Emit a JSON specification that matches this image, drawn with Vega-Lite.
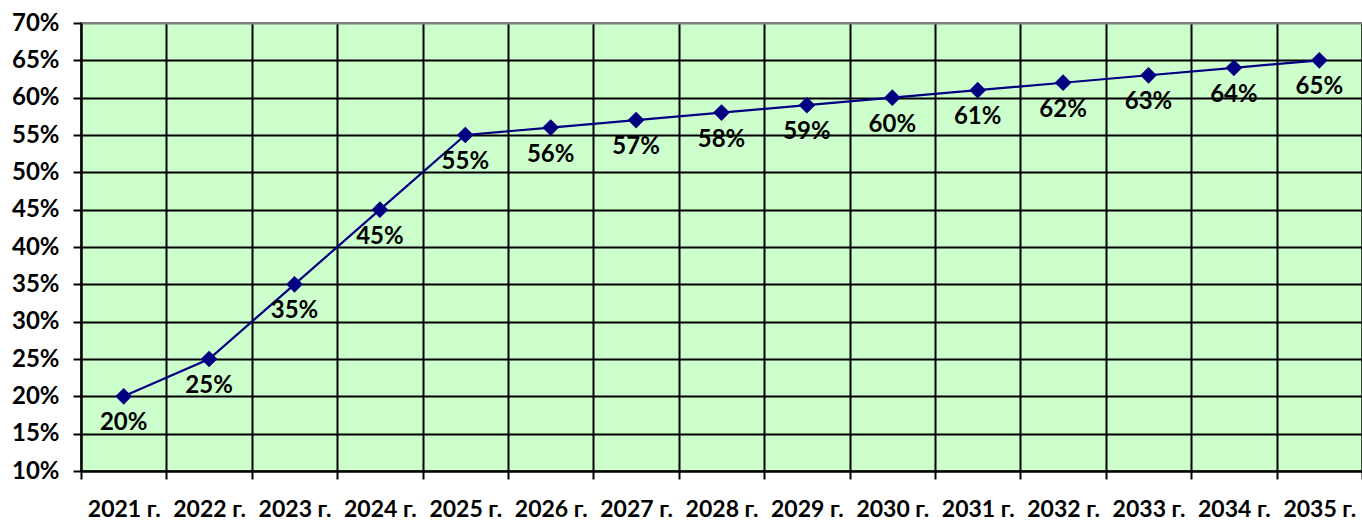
{
  "$schema": "https://vega.github.io/schema/vega-lite/v6.json",
  "width": 1281,
  "height": 448,
  "autosize": {"type": "none"},
  "padding": {"left": 81, "top": 23, "right": 0, "bottom": 49},
  "background": "white",
  "config": {
    "view": {"fill": "#CCFFCC", "stroke": "#808080", "strokeWidth": 2},
    "font": "Lato"
  },
  "data": {
    "values": [
      {"year": "2021 г.", "value": 20, "label": "20%"},
      {"year": "2022 г.", "value": 25, "label": "25%"},
      {"year": "2023 г.", "value": 35, "label": "35%"},
      {"year": "2024 г.", "value": 45, "label": "45%"},
      {"year": "2025 г.", "value": 55, "label": "55%"},
      {"year": "2026 г.", "value": 56, "label": "56%"},
      {"year": "2027 г.", "value": 57, "label": "57%"},
      {"year": "2028 г.", "value": 58, "label": "58%"},
      {"year": "2029 г.", "value": 59, "label": "59%"},
      {"year": "2030 г.", "value": 60, "label": "60%"},
      {"year": "2031 г.", "value": 61, "label": "61%"},
      {"year": "2032 г.", "value": 62, "label": "62%"},
      {"year": "2033 г.", "value": 63, "label": "63%"},
      {"year": "2034 г.", "value": 64, "label": "64%"},
      {"year": "2035 г.", "value": 65, "label": "65%"}
    ]
  },
  "encoding": {
    "x": {
      "field": "year",
      "type": "ordinal",
      "sort": null,
      "scale": {"paddingInner": 0, "paddingOuter": 0},
      "axis": {
        "title": null,
        "labelAngle": 0,
        "tickBand": "extent",
        "grid": true,
        "gridColor": "black",
        "gridWidth": 2,
        "domainColor": "black",
        "domainWidth": 2,
        "tickColor": "black",
        "tickWidth": 2,
        "tickSize": 8,
        "labelFont": "Lato",
        "labelFontSize": 23,
        "labelFontWeight": "bold",
        "labelColor": "black",
        "labelPadding": 30,
        "labelBaseline": "middle",
        "labelAlign": "center"
      }
    },
    "y": {
      "field": "value",
      "type": "quantitative",
      "scale": {"domain": [10, 70], "nice": false, "zero": false},
      "axis": {
        "title": null,
        "values": [10, 15, 20, 25, 30, 35, 40, 45, 50, 55, 60, 65, 70],
        "labelExpr": "datum.value + '%'",
        "grid": true,
        "gridColor": {"condition": {"test": "datum.value >= 70", "value": "#808080"}, "value": "black"},
        "gridWidth": 2,
        "domainColor": "black",
        "domainWidth": 2,
        "tickColor": "black",
        "tickWidth": 2,
        "tickSize": 8,
        "labelFont": "Lato",
        "labelFontSize": 24,
        "labelFontWeight": "bold",
        "labelColor": "black",
        "labelPadding": 14
      }
    }
  },
  "layer": [
    {
      "mark": {"type": "line", "color": "#000080", "strokeWidth": 2.2}
    },
    {
      "mark": {"type": "point", "shape": "diamond", "filled": true, "color": "#000080", "size": 280, "opacity": 1}
    },
    {
      "mark": {"type": "text", "dy": 27, "fontSize": 24, "fontWeight": "bold", "color": "black", "font": "Lato"},
      "encoding": {"text": {"field": "label", "type": "nominal"}}
    }
  ]
}
